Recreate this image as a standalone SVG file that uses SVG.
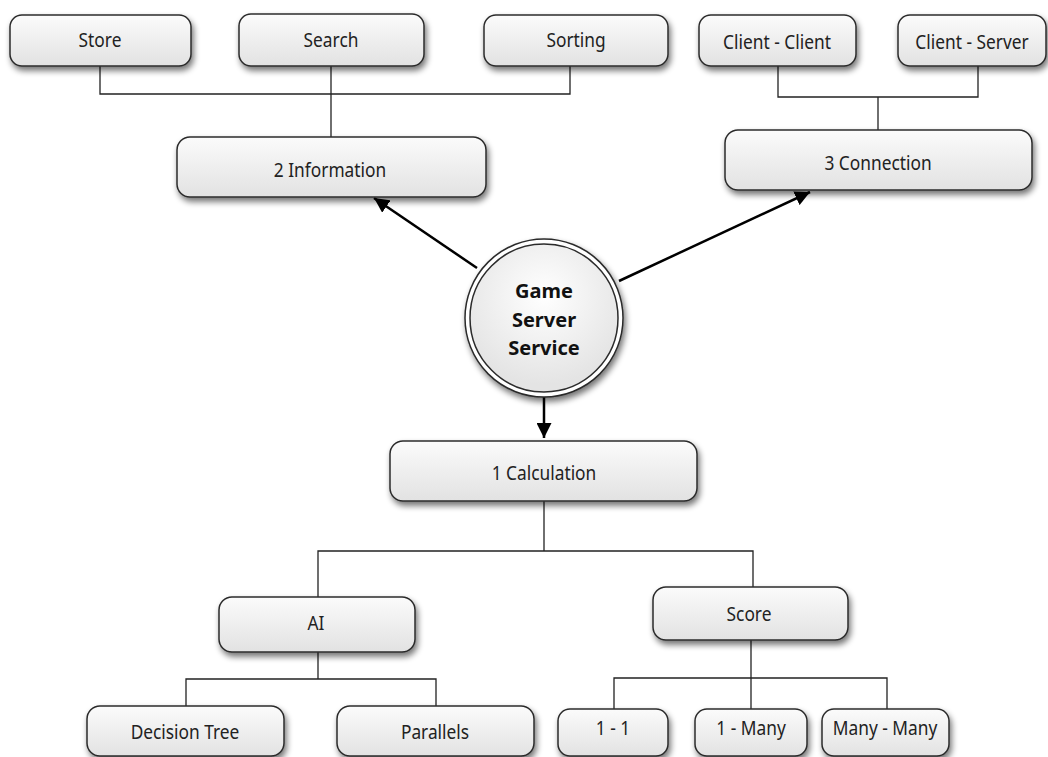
<svg xmlns="http://www.w3.org/2000/svg" width="1048" height="757" viewBox="0 0 1048 757">
  <defs>
    <linearGradient id="boxFill" x1="0" y1="0" x2="0" y2="1">
      <stop offset="0" stop-color="#fbfbfb"/>
      <stop offset="1" stop-color="#e2e2e2"/>
    </linearGradient>
    <radialGradient id="hubFill" cx="0.5" cy="0.35" r="0.6">
      <stop offset="0" stop-color="#ffffff"/>
      <stop offset="1" stop-color="#e4e4e4"/>
    </radialGradient>
    <filter id="shadow" x="-10%" y="-20%" width="130%" height="150%">
      <feGaussianBlur in="SourceAlpha" stdDeviation="3"/>
      <feOffset dx="2" dy="4" result="blur"/>
      <feComponentTransfer><feFuncA type="linear" slope="0.55"/></feComponentTransfer>
      <feMerge><feMergeNode/><feMergeNode in="SourceGraphic"/></feMerge>
    </filter>
    <marker id="arrow" viewBox="0 0 10 10" refX="10" refY="5" markerWidth="6" markerHeight="6" markerUnits="strokeWidth" orient="auto">
      <path d="M0,0 L10,5 L0,10 z" fill="#000"/>
    </marker>
  </defs>
  <style>
    .box { fill: url(#boxFill); stroke: #2b2b2b; stroke-width: 1.5; filter: url(#shadow); }
    .label { font-family: "Noto Sans", "Open Sans", sans-serif; font-size: 20.5px; fill: #222; text-anchor: middle; }
    .hub { font-family: "Noto Sans", "Open Sans", sans-serif; font-size: 20px; font-weight: bold; fill: #111; text-anchor: middle; }
    .tree { fill: none; stroke: #222; stroke-width: 1.3; }
    .arrowline { fill: none; stroke: #000; stroke-width: 2.5; marker-end: url(#arrow); }
  </style>
  <rect width="1048" height="757" fill="#ffffff"/>

  <!-- connectors -->
  <g id="connectors">
    <!-- information branch -->
    <polyline class="tree" points="100,66 100,94 570,94 570,66"/>
    <line class="tree" x1="331" y1="66" x2="331" y2="137"/>
    <!-- connection branch -->
    <polyline class="tree" points="778,66 778,97 978,97 978,66"/>
    <line class="tree" x1="878" y1="97" x2="878" y2="130"/>
    <!-- calculation branch -->
    <polyline class="tree" points="318,597 318,551 753,551 753,587"/>
    <line class="tree" x1="544" y1="501" x2="544" y2="551"/>
    <!-- AI branch -->
    <polyline class="tree" points="186,706 186,679 436,679 436,706"/>
    <line class="tree" x1="318" y1="652" x2="318" y2="679"/>
    <!-- score branch -->
    <polyline class="tree" points="614,709 614,678 887,678 887,709"/>
    <line class="tree" x1="751" y1="640" x2="751" y2="709"/>
    <!-- hub arrows -->
    <line class="arrowline" x1="477" y1="268" x2="374" y2="198"/>
    <line class="arrowline" x1="619" y1="281" x2="810" y2="192"/>
    <line class="arrowline" x1="544" y1="395" x2="544" y2="438"/>
  </g>

  <g id="hub">
    <circle cx="544" cy="318" r="79" fill="#ffffff" stroke="#2b2b2b" stroke-width="1.5" filter="url(#shadow)"/>
    <circle cx="544" cy="318" r="74" fill="url(#hubFill)" stroke="#2b2b2b" stroke-width="1.5"/>
    <text class="hub" x="544" y="298">Game</text>
    <text class="hub" x="544" y="326.5">Server</text>
    <text class="hub" x="544" y="355">Service</text>
  </g>

  <g id="store"><rect class="box" x="10" y="15" width="181" height="51" rx="12"/><text class="label" transform="translate(100,47) scale(0.845,1)">Store</text></g>
  <g id="search"><rect class="box" x="239" y="14" width="185" height="52" rx="12"/><text class="label" transform="translate(331,47) scale(0.845,1)">Search</text></g>
  <g id="sorting"><rect class="box" x="484" y="15" width="184" height="51" rx="12"/><text class="label" transform="translate(576,47) scale(0.845,1)">Sorting</text></g>
  <g id="client-client"><rect class="box" x="699" y="15" width="157" height="51" rx="12"/><text class="label" transform="translate(777,49) scale(0.845,1)">Client - Client</text></g>
  <g id="client-server"><rect class="box" x="898" y="15" width="148" height="51" rx="12"/><text class="label" transform="translate(972,49) scale(0.845,1)">Client - Server</text></g>
  <g id="information"><rect class="box" x="177" y="137" width="309" height="60" rx="13"/><text class="label" transform="translate(330,177) scale(0.845,1)">2 Information</text></g>
  <g id="connection"><rect class="box" x="725" y="130" width="307" height="60" rx="13"/><text class="label" transform="translate(878,170) scale(0.845,1)">3 Connection</text></g>
  <g id="calculation"><rect class="box" x="390" y="441" width="307" height="60" rx="13"/><text class="label" transform="translate(544,480) scale(0.845,1)">1 Calculation</text></g>
  <g id="ai"><rect class="box" x="219" y="597" width="196" height="55" rx="13"/><text class="label" transform="translate(316,630) scale(0.845,1)">AI</text></g>
  <g id="score"><rect class="box" x="653" y="587" width="195" height="53" rx="13"/><text class="label" transform="translate(749,621) scale(0.845,1)">Score</text></g>
  <g id="decision-tree"><rect class="box" x="87" y="706" width="197" height="50" rx="13"/><text class="label" transform="translate(185,739) scale(0.845,1)">Decision Tree</text></g>
  <g id="parallels"><rect class="box" x="337" y="706" width="197" height="50" rx="13"/><text class="label" transform="translate(435,739) scale(0.845,1)">Parallels</text></g>
  <g id="one-one"><rect class="box" x="558" y="709" width="110" height="47" rx="12"/><text class="label" transform="translate(613,735) scale(0.845,1)">1 - 1</text></g>
  <g id="one-many"><rect class="box" x="695" y="709" width="112" height="47" rx="12"/><text class="label" transform="translate(751,735) scale(0.845,1)">1 - Many</text></g>
  <g id="many-many"><rect class="box" x="822" y="709" width="127" height="47" rx="12"/><text class="label" transform="translate(885,735) scale(0.845,1)">Many - Many</text></g>
</svg>
